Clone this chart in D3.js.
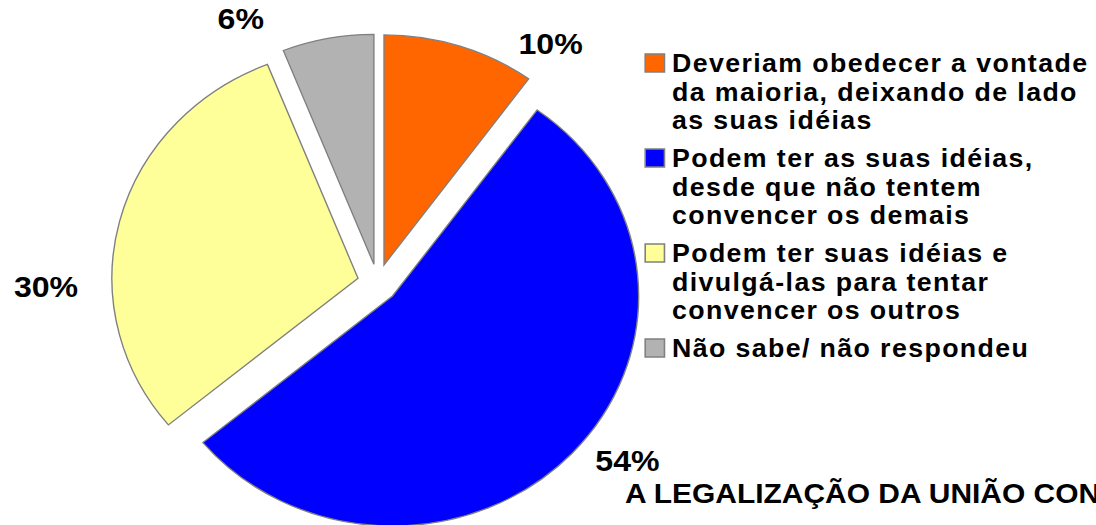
<!DOCTYPE html>
<html>
<head>
<meta charset="utf-8">
<script src="https://cdn.jsdelivr.net/npm/d3@7"></script>
<style>
  body { margin: 0; background: #fff; overflow: hidden; }
  text { font-family: "Liberation Sans", Arial, sans-serif; font-weight: bold; fill: #000; }
</style>
</head>
<body>
<div id="chart"></div>
<script>
// data
const categories = [
  ["Deveriam obedecer a vontade", "da maioria, deixando de lado", "as suas idéias"],
  ["Podem ter as suas idéias,", "desde que não tentem", "convencer os demais"],
  ["Podem ter suas idéias e", "divulgá-las para tentar", "convencer os outros"],
  ["Não sabe/ não respondeu"]
];
const values = [10, 54, 30, 6];
const valueLabels = ["10%", "54%", "30%", "6%"];
const colors = ["#FF6600", "#0000FF", "#FFFF99", "#B2B2B2"];
const title = "A LEGALIZAÇÃO DA UNIÃO CONJUGAL";

const width = 1096, height = 525;
// the original picture is a bit wider than tall, so stretch everything horizontally
const sx = 1.07;

const svg = d3.select('#chart').append('svg')
    .attr('width', width)
    .attr('height', height);

const root = svg.append('g')
    .attr('transform', `scale(${sx},1)`);

// pie
const radius = 230, explode = 19;
const center = {x: 353, y: 283};

const pie = d3.pie().sort(null).value(d => d);
const arcs = pie(values);
const arc = d3.arc().innerRadius(0).outerRadius(radius);

const pieG = root.append('g')
    .attr('transform', `translate(${center.x},${center.y})`);

pieG.selectAll('.slice')
    .data(arcs)
    .join('path')
    .attr('class', 'slice')
    .attr('transform', d => {
      const a = (d.startAngle + d.endAngle) / 2;
      return `translate(${explode * Math.sin(a)},${-explode * Math.cos(a)})`;
    })
    .attr('d', arc)
    .attr('fill', (d, i) => colors[i])
    .attr('stroke', '#808080')
    .attr('stroke-width', 1.3)
    .attr('stroke-linejoin', 'miter');

// percent labels, nudged the way Excel placed them (angle shift in degrees, radius)
const labelNudge = [{da: 16, r: 289}, {da: -6, r: 293}, {da: -15, r: 310}, {da: -15, r: 294}];

pieG.selectAll('.pct')
    .data(arcs)
    .join('text')
    .attr('class', 'pct')
    .attr('text-anchor', 'middle')
    .attr('dy', '0.36em')
    .style('font-size', '30px')
    .attr('x', (d, i) => {
      const a = (d.startAngle + d.endAngle) / 2 + labelNudge[i].da * Math.PI / 180;
      return labelNudge[i].r * Math.sin(a);
    })
    .attr('y', (d, i) => {
      const a = (d.startAngle + d.endAngle) / 2 + labelNudge[i].da * Math.PI / 180;
      return -labelNudge[i].r * Math.cos(a);
    })
    .text((d, i) => valueLabels[i]);

// legend
const legend = root.append('g')
    .attr('transform', 'translate(603,0)');
const lineH = 28.7, entryH = 95, firstBase = 72, box = 18;

const items = legend.selectAll('.item')
    .data(categories)
    .join('g')
    .attr('class', 'item')
    .attr('transform', (d, i) => `translate(0,${firstBase + i * entryH})`);

items.append('rect')
    .attr('x', 0)
    .attr('y', -18)
    .attr('width', box)
    .attr('height', box)
    .attr('fill', (d, i) => colors[i])
    .attr('stroke', '#808080')
    .attr('stroke-width', 1.5);

items.append('text')
    .attr('x', 25)
    .style('font-size', '25px')
    .style('letter-spacing', '1.3px')
    .selectAll('tspan')
    .data(d => d)
    .join('tspan')
    .attr('x', 25)
    .attr('dy', (d, j) => j === 0 ? 0 : lineH)
    .text(d => d);

// title at the bottom, cut off by the right edge like in the original
root.append('text')
    .attr('x', 584)
    .attr('y', 503)
    .style('font-size', '28px')
    .style('letter-spacing', '0px')
    .text(title);
</script>
</body>
</html>
